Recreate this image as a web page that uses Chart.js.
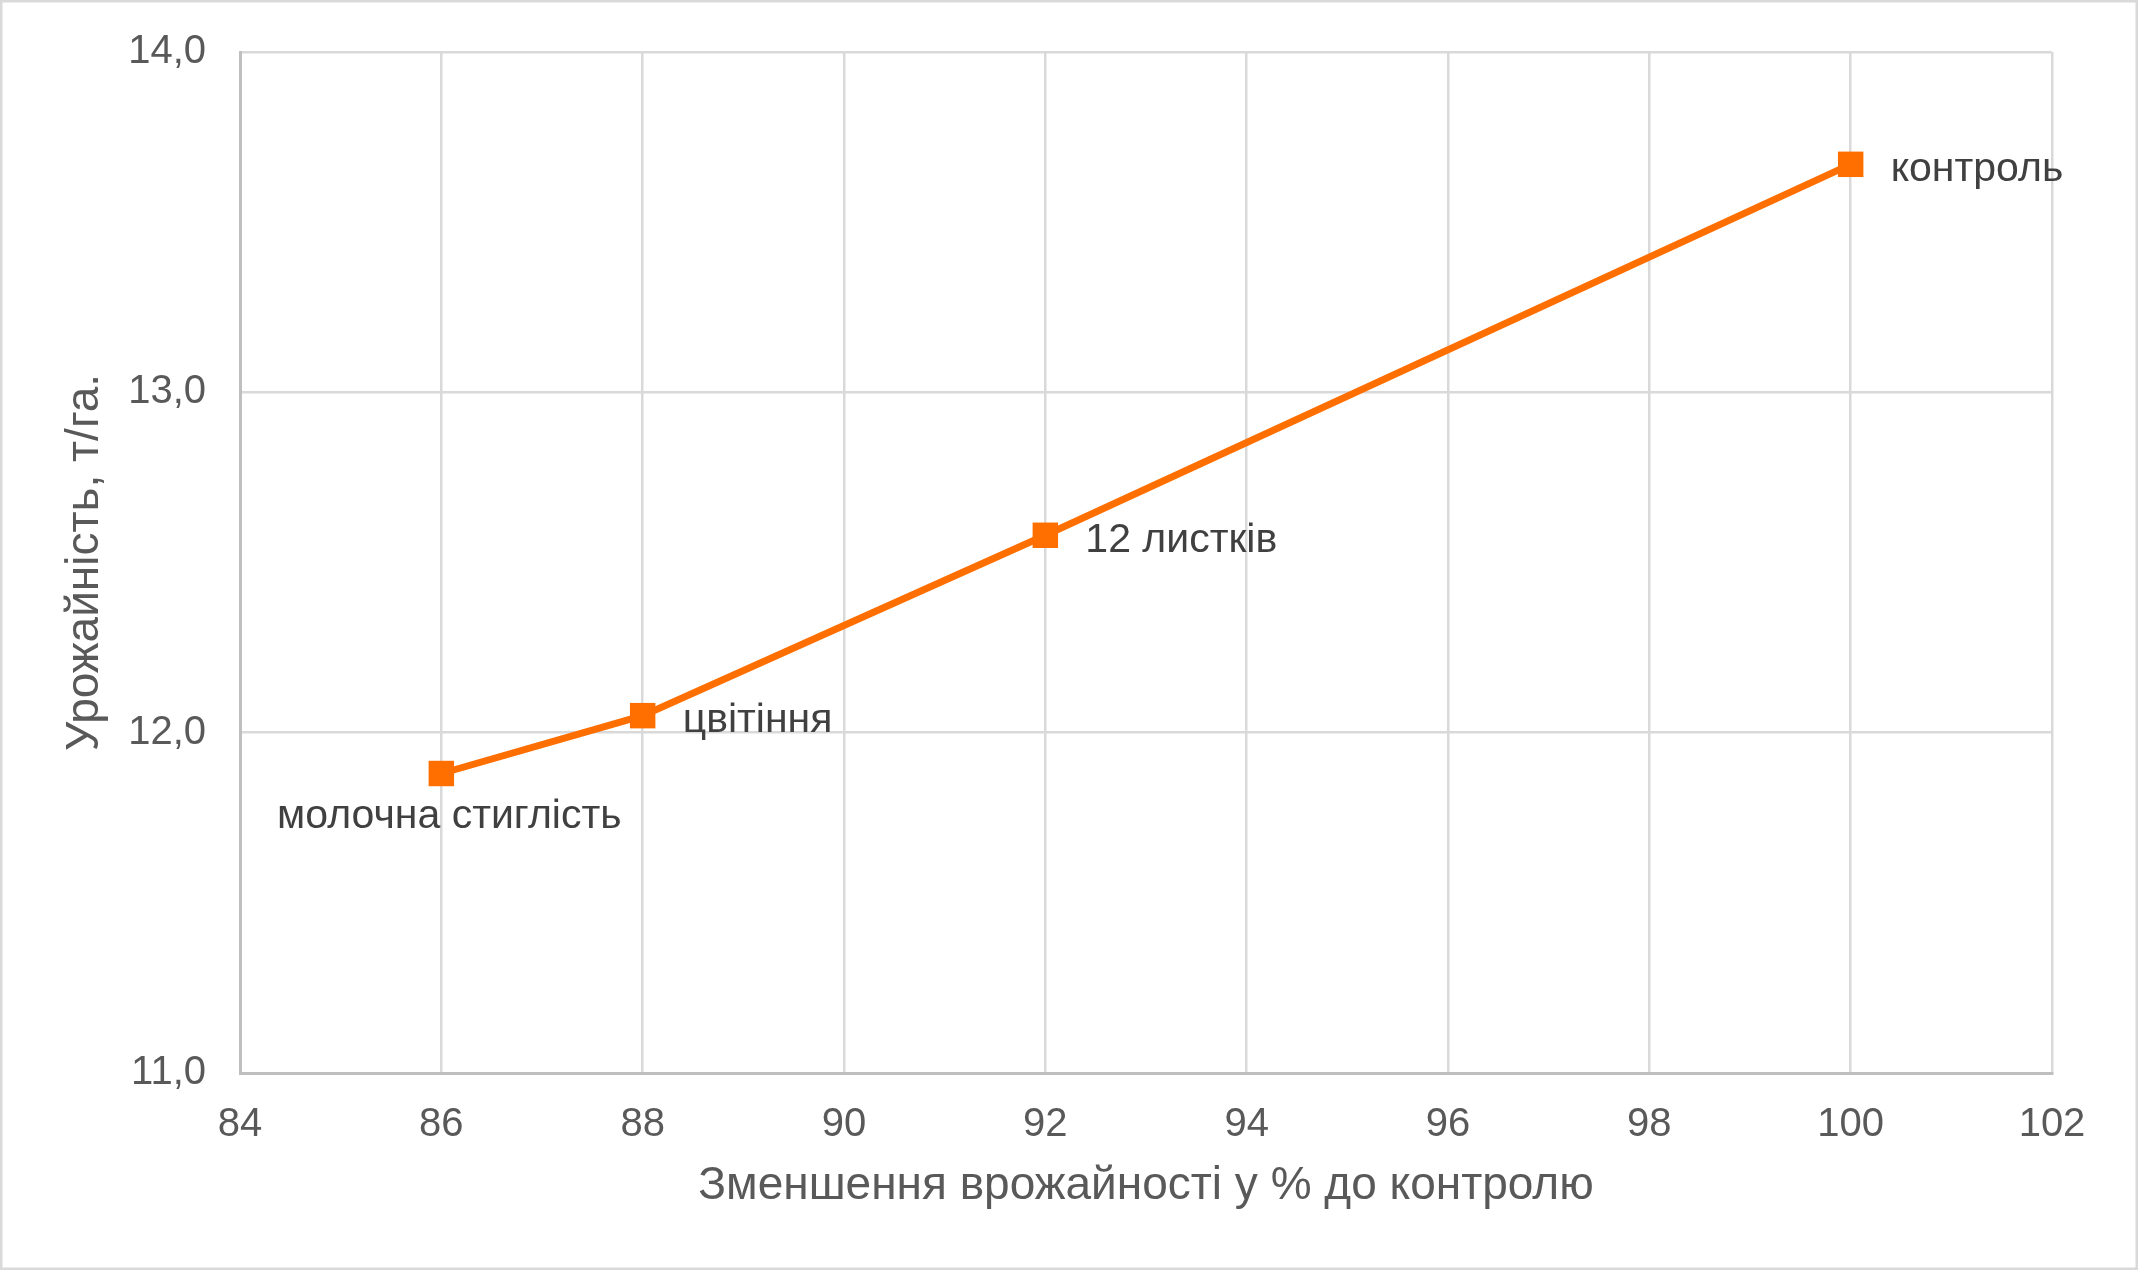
<!DOCTYPE html>
<html>
<head>
<meta charset="utf-8">
<script src="https://cdn.jsdelivr.net/npm/chart.js@4.4.1/dist/chart.umd.min.js"></script>
<style>
  html, body { margin: 0; padding: 0; background: #fff; }
  #wrap { width: 2138px; height: 1270px; position: relative; }
</style>
</head>
<body>
<div id="wrap"><canvas id="line-chart"></canvas></div>
<script>
// data
const stages = ['молочна стиглість', 'цвітіння', '12 листків', 'контроль'];
const reductionPct = [86, 88, 92, 100];
const yieldTHa = [11.88, 12.05, 12.58, 13.67];

const xMin = 84, xMax = 102, xStep = 2;
const yMin = 11, yMax = 14, yStep = 1;

const xTitle = 'Зменшення врожайності у % до контролю';
const yTitle = 'Урожайність, т/га.';

const FONT = '"Liberation Sans", Arial, sans-serif';
const orange = '#ff6f00';

let points = [];
for (let i in reductionPct) {
    points.push({x: reductionPct[i], y: yieldTHa[i]});
}

// draws the point labels (right of the marker, first one underneath)
const pointLabels = {
    id: 'pointLabels',
    afterDatasetsDraw(chart) {
        const ctx = chart.ctx;
        const meta = chart.getDatasetMeta(0);
        ctx.save();
        ctx.font = '41px ' + FONT;
        ctx.fillStyle = '#404040';
        ctx.textBaseline = 'middle';
        meta.data.forEach(function(pt, i) {
            if (i == 0) {
                ctx.textAlign = 'center';
                ctx.fillText(stages[i], pt.x + 8, pt.y + 43);
            } else {
                ctx.textAlign = 'left';
                ctx.fillText(stages[i], pt.x + 40, pt.y + 5);
            }
        });
        ctx.restore();
    }
};

// light frame round the whole picture
const frame = {
    id: 'frame',
    beforeDraw(chart) {
        const ctx = chart.ctx;
        ctx.save();
        ctx.fillStyle = '#fff';
        ctx.fillRect(0, 0, chart.width, chart.height);
        ctx.strokeStyle = '#d9d9d9';
        ctx.lineWidth = 2.5;
        ctx.strokeRect(1.25, 1.25, chart.width - 2.5, chart.height - 2.5);
        ctx.restore();
    }
};

const chart_data = {
    datasets: [{
        label: 'урожайність',
        data: points,
        showLine: true,
        borderColor: orange,
        borderWidth: 7,
        backgroundColor: orange,
        pointStyle: 'rect',
        pointRadius: 18,
        pointBorderWidth: 0,
        tension: 0
    }]
};

const options = {
    responsive: true,
    maintainAspectRatio: false,
    animation: false,
    layout: { padding: { top: 52, right: 86, left: 0, bottom: 0 } },
    plugins: { legend: { display: false }, tooltip: { enabled: false } },
    scales: {
        x: {
            type: 'linear',
            min: xMin,
            max: xMax,
            afterFit: function(scale) { scale.height = 197; },
            ticks: {
                stepSize: xStep,
                color: '#595959',
                padding: 28,
                font: { family: FONT, size: 40, lineHeight: 1.2 }
            },
            grid: { color: '#d9d9d9', lineWidth: 2.5, drawTicks: false },
            border: { color: '#bfbfbf', width: 3 },
            title: {
                display: true,
                text: xTitle,
                color: '#595959',
                padding: { top: 0, bottom: 56 },
                font: { family: FONT, size: 46, lineHeight: 1.2 }
            }
        },
        y: {
            min: yMin,
            max: yMax,
            afterFit: function(scale) {
                scale.width = 240;
                scale.paddingTop = 0;
                scale.paddingBottom = 0;
            },
            ticks: {
                stepSize: yStep,
                color: '#595959',
                padding: 34,
                font: { family: FONT, size: 40, lineHeight: 1.2 },
                callback: function(v) { return v.toFixed(1).replace('.', ','); }
            },
            grid: { color: '#d9d9d9', lineWidth: 2.5, drawTicks: false },
            border: { color: '#bfbfbf', width: 3 },
            title: {
                display: true,
                text: yTitle,
                color: '#595959',
                padding: { top: 58, bottom: 0 },
                font: { family: FONT, size: 46, lineHeight: 1.2 }
            }
        }
    }
};

const ctx1 = document.getElementById('line-chart').getContext('2d');
const graph1 = new Chart(ctx1, {
    type: 'scatter',
    data: chart_data,
    options: options,
    plugins: [frame, pointLabels]
});
</script>
</body>
</html>
